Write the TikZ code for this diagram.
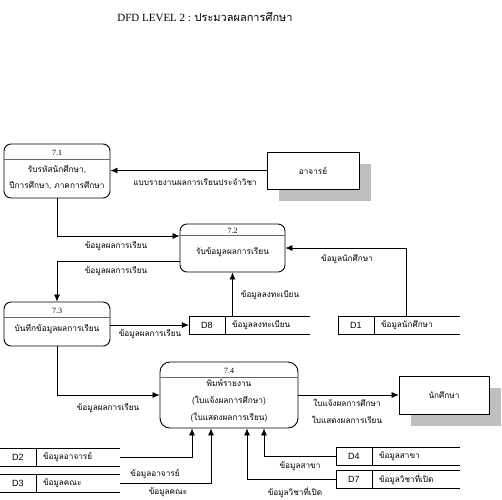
\documentclass[tikz,border=0pt]{standalone}
\usepackage{fontspec}
\setmainfont{Liberation Serif}
\newfontfamily\thaifont[Script=Thai]{Loma}
\newfontfamily\idfont{Liberation Sans}
\usetikzlibrary{arrows.meta, positioning, calc}

\tikzset{
	proc/.style={draw, rounded corners=7pt, line width=0.9pt},
	headline/.style={line width=1.3pt, black!60},
	ent/.style={draw, fill=white, line width=0.7pt},
	entshadow/.style={fill=black!25},
	flow/.style={-{Latex[length=7pt,width=6pt]}, line width=0.6pt},
	lbl/.style={font=\thaifont\fontsize{8.2}{9}\selectfont, inner sep=0pt},
	ptxt/.style={font=\thaifont\fontsize{8.3}{16}\selectfont, inner sep=0pt, align=center},
	idtxt/.style={font=\fontsize{8}{9}\selectfont, inner sep=0pt},
	store/.style={minimum height=18pt, inner sep=0pt},
}

\begin{document}
\begin{tikzpicture}[x=1pt, y=-1pt]
	\useasboundingbox (0,0) rectangle (502,499);
	% title
	\node[font=\fontsize{11}{13}\selectfont] (title) at (205,17)
	{DFD LEVEL 2 : {\thaifont ประมวลผลการศึกษา}};

	% external entities
	\node[ent, minimum width=92pt, minimum height=37pt] (teacher) at (313,170.5) {};
	\fill[entshadow] ([shift={(12pt,-12pt)}]teacher.north west) rectangle ([shift={(12pt,-12pt)}]teacher.south east);
	\node[ent, minimum width=92pt, minimum height=37pt, lbl] (teacher) at (313,170.5) {อาจารย์};
	\node[ent, minimum width=90pt, minimum height=38pt] (student) at (444,395) {};
	\fill[entshadow] ([shift={(12pt,-12pt)}]student.north west) rectangle ([shift={(12pt,-12pt)}]student.south east);
	\node[ent, minimum width=90pt, minimum height=38pt, lbl] (student) at (444,395) {นักศึกษา};

	% processes
	\node[proc, minimum width=106pt, minimum height=54pt] (p71) at (57,171) {};
	\draw[headline] ([yshift=-16pt]p71.north west) -- ([yshift=-16pt]p71.north east);
	\node[idtxt] (p71id) at (57,153) {7.1};
	\node[ptxt] (p71txt) at (57,178) {รับรหัสนักศึกษา,\\ปีการศึกษา, ภาคการศึกษา};

	\node[proc, minimum width=105pt, minimum height=48pt] (p72) at (232.5,248) {};
	\draw[headline] ([yshift=-12pt]p72.north west) -- ([yshift=-12pt]p72.north east);
	\node[idtxt] (p72id) at (232.5,231) {7.2};
	\node[ptxt] (p72txt) at (232.5,252) {รับข้อมูลผลการเรียน};

	\node[proc, minimum width=106pt, minimum height=44pt] (p73) at (57,324) {};
	\draw[headline] ([yshift=-16pt]p73.north west) -- ([yshift=-16pt]p73.north east);
	\node[idtxt] (p73id) at (57,311) {7.3};
	\node[ptxt] (p73txt) at (57,329) {บันทึกข้อมูลผลการเรียน};

	\node[proc, rounded corners=10pt, minimum width=138pt, minimum height=66pt] (p74) at (229,395) {};
	\draw[headline] ([yshift=-16pt]p74.north west) -- ([yshift=-16pt]p74.north east);
	\node[idtxt] (p74id) at (229,371) {7.4};
	\node[ptxt, font=\thaifont\fontsize{8.3}{17}\selectfont] (p74txt) at (229,401) {พิมพ์รายงาน\\(ใบแจ้งผลการศึกษา)\\(ใบแสดงผลการเรียน)};

	% data stores
	\foreach \nm/\x/\y/\w/\txt in {8/249.5/325/121/ข้อมูลลงทะเบียน, 1/399/325/122/ข้อมูลนักศึกษา,
		2/60/457/120/ข้อมูลอาจารย์, 3/60/483.5/120/ข้อมูลคณะ,
		4/398/456/124/ข้อมูลสาขา, 7/398/479.5/124/ข้อมูลวิชาที่เปิด}{
		\node[store, minimum width=\w pt] (d\nm) at (\x,\y) {};
		\draw[line width=0.6pt] (d\nm.north east) -- (d\nm.north west) -- (d\nm.south west) -- (d\nm.south east);
		\draw[line width=0.6pt] ([xshift=36pt]d\nm.north west) -- ([xshift=36pt]d\nm.south west);
		\node[font=\idfont\fontsize{9}{10}\selectfont] (d\nm id) at ([xshift=18pt]d\nm.west) {D\nm};
		\node[lbl, anchor=west] (d\nm txt) at ([xshift=43pt]d\nm.west) {\txt};
	}

	% data flows
	\draw[flow] (teacher.west) -- (teacher.west -| p71.east);
	\node[lbl] (f1) at (195,182) {แบบรายงานผลการเรียนประจำวิชา};
	\draw[flow] (p71.south) |- ([yshift=12pt]p72.west);
	\node[lbl] (f2) at (116,246) {ข้อมูลผลการเรียน};
	\draw[flow] ([yshift=-13pt]p72.west) -| (p73.north);
	\node[lbl] (f3) at (116,271) {ข้อมูลผลการเรียน};
	\draw[flow] (p73.east |- d8.west) -- (d8.west);
	\node[lbl] (f4) at (150,334) {ข้อมูลผลการเรียน};
	\draw[flow] (d8.north -| p72.south) -- (p72.south);
	\node[lbl] (f5) at (270,295) {ข้อมูลลงทะเบียน};
	\draw[flow] ([xshift=7pt]d1.north) |- (p72.east);
	\node[lbl] (f6) at (347,259) {ข้อมูลนักศึกษา};
	\draw[flow] (p73.south) |- (p74.west);
	\node[lbl] (f7) at (108,408) {ข้อมูลผลการเรียน};
	\draw[flow] (p74.east) -- (student.west);
	\node[lbl] (f8) at (347,403) {ใบแจ้งผลการศึกษา};
	\node[lbl] (f9) at (347,420) {ใบแสดงผลการเรียน};
	\draw[flow] (d2.east) -| ([xshift=-37pt]p74.south);
	\node[lbl] (f10) at (155,474) {ข้อมูลอาจารย์};
	\draw[flow] (d3.east) -| ([xshift=-18pt]p74.south);
	\node[lbl] (f11) at (168,492) {ข้อมูลคณะ};
	\draw[flow] (d4.west) -| ([xshift=35pt]p74.south);
	\node[lbl] (f12) at (300,466) {ข้อมูลสาขา};
	\draw[flow] (d7.west) -| ([xshift=18pt]p74.south);
	\node[lbl] (f13) at (295,492) {ข้อมูลวิชาที่เปิด};
\end{tikzpicture}
\end{document}
